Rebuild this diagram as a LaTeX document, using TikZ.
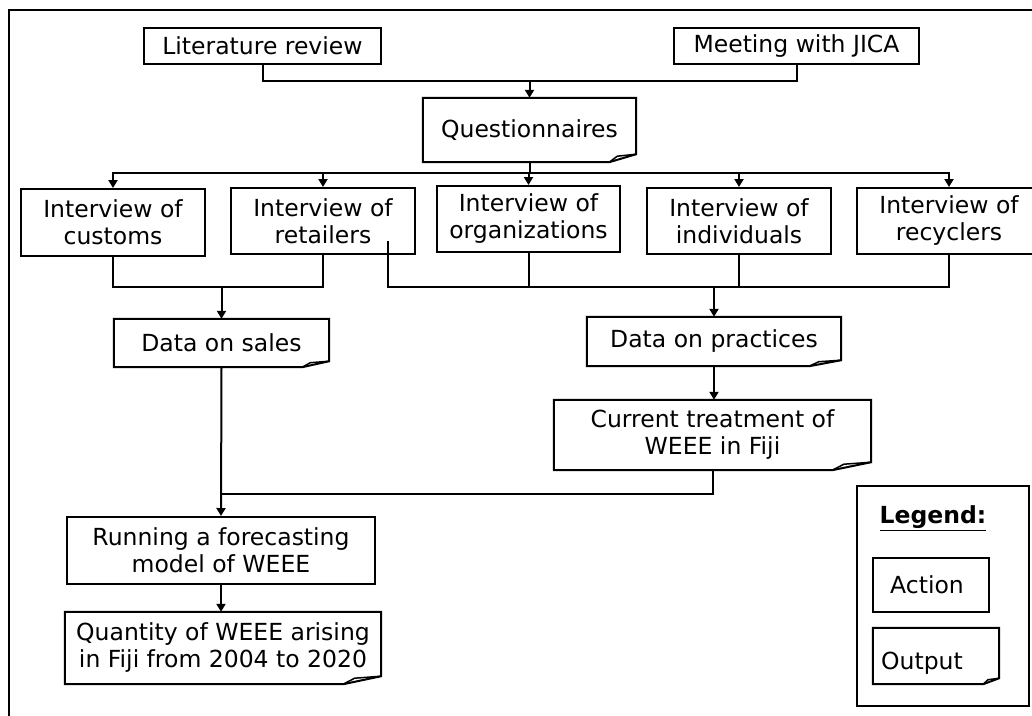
\documentclass[tikz,border=0pt]{standalone}
\usepackage{fontspec}
\setmainfont{DejaVu Sans}
\usetikzlibrary{arrows.meta}

% Output shape: rectangle whose lower right corner is turned up.
% #1 node, #2 width of the fold, #3 height of the fold
\newcommand\foldedframe[3]{%
  \draw[line width=2pt, line join=miter]
    (#1.north west) -- (#1.north east) -- ([yshift=#3pt]#1.south east)
    -- ([xshift=-#2pt]#1.south east) -- (#1.south west) -- cycle;
  \draw[line width=1.5pt, line join=miter]
    ([xshift=-#2pt]#1.south east) -- ([xshift={-0.7*#2pt}, yshift={0.75*#3pt}]#1.south east)
    -- ([yshift=#3pt]#1.south east);}

\begin{document}
\begin{tikzpicture}[x=1pt, y=-1pt,
  every node/.style={font=\fontsize{23.5}{27}\selectfont},
  actbox/.style={draw, line width=2pt, align=center, inner sep=2pt},
  outbox/.style={align=center, inner sep=2pt},
  link/.style={line width=2pt, line cap=rect},
  arr/.style={line width=2pt, -{Triangle[width=9pt,length=8pt]}}]

\clip (0,0) rectangle (1032,715);

% outer frame
\draw[line width=2pt] (1045,10) -- (9,10) -- (9,725);

% starting points
\node[actbox, minimum width=237, minimum height=36] (lit) at (262.5,46) {Literature review};
\node[actbox, minimum width=245, minimum height=36] (jica) at (796.5,46) {Meeting with JICA};
\node[outbox, minimum width=213, minimum height=64] (quest) at (529.5,130) {\raisebox{3pt}{Questionnaires}};
\foldedframe{quest}{27}{8}

% interviews
\node[actbox, minimum width=184, minimum height=67] (cust) at (113,222.5) {Interview of\\customs};
\node[actbox, minimum width=184, minimum height=66] (ret) at (323,221) {Interview of\\retailers};
\node[actbox, minimum width=183, minimum height=66] (org) at (528.5,219) {Interview of\\organizations};
\node[actbox, minimum width=184, minimum height=66] (ind) at (739,221) {Interview of\\individuals};
\node[actbox, minimum width=184, minimum height=66] (rec) at (949,221) {Interview of\\recyclers};

% collected data
\node[outbox, minimum width=215, minimum height=48] (sales) at (221.5,343) {Data on sales};
\foldedframe{sales}{27}{6}
\node[outbox, minimum width=254, minimum height=49] (prac) at (714,341.5) {Data on practices};
\foldedframe{prac}{32}{6}
\node[outbox, minimum width=317, minimum height=70] (cur) at (712.5,435) {Current treatment of\\WEEE in Fiji};
\foldedframe{cur}{39}{8}

% forecasting
\node[actbox, minimum width=308, minimum height=67] (run) at (221,550.5) {Running a forecasting\\model of WEEE};
\node[outbox, minimum width=316, minimum height=72] (qty) at (223,648) {Quantity of WEEE arising\\in Fiji from 2004 to 2020};
\foldedframe{qty}{38}{8}

% legend
\node[draw, line width=2pt, minimum width=172, minimum height=220] (legend) at (943,596) {};
\node (legtitle) at (933,518) {\textbf{\underline{Legend:}}};
\node[actbox, minimum width=116, minimum height=54] (act) at (931,585) {};
\node (acttext) at (927,585) {Action};
\node[outbox, minimum width=126, minimum height=56] (outp) at (936,656) {};
\foldedframe{outp}{16}{6}
\node (outtext) at (922,663) {Output};

% connector levels
\coordinate (busA) at (0,81);
\coordinate (busB) at (0,173);
\coordinate (busC) at (0,287);
\coordinate (busE) at (0,494);
\coordinate (rettap) at (388,242);

% connectors
\draw[link] (lit.south) -- (lit.south |- busA) -- (jica.south |- busA) -- (jica.south);
\draw[arr] (quest.north |- busA) -- (quest.north);
\draw[link] (quest.south) -- (quest.south |- busB);
\draw[link] (cust.north |- busB) -- (rec.north |- busB);
\foreach \n in {cust,ret,org,ind,rec}
  \draw[arr] (\n.north |- busB) -- (\n.north);

\draw[link] (cust.south) |- (ret.south |- busC) -- (ret.south);
\draw[arr] (sales.north |- busC) -- (sales.north);

\draw[link] (rettap) |- (rec.south |- busC) -- (rec.south);
\draw[link] (org.south) -- (org.south |- busC);
\draw[link] (ind.south) -- (ind.south |- busC);
\draw[arr] (prac.north |- busC) -- (prac.north);
\draw[arr] (prac.south) -- (prac.south |- cur.north);

\draw[link] (cur.south) |- (sales.south |- busE);
\draw[arr] (sales.south) -- (run.north);
\draw[arr] (run.south) -- (run.south |- qty.north);
\end{tikzpicture}
\end{document}
